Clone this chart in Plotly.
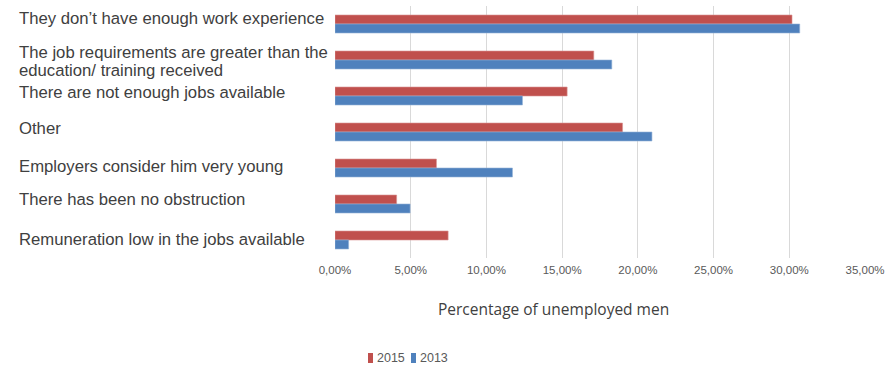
import plotly.graph_objects as go

categories = [
    "They don’t have enough work experience",
    "The job requirements are greater than the<br>education/ training received",
    "There are not enough jobs available",
    "Other",
    "Employers consider him very young",
    "There has been no obstruction",
    "Remuneration low in the jobs available",
]
cat_keys = ["c1", "c2", "c3", "c4", "c5", "c6", "c7"]
series_names = ["2015", "2013"]
values_2015 = [0.3018, 0.1709, 0.1533, 0.1899, 0.0670, 0.0407, 0.0747]
values_2013 = [0.3069, 0.1828, 0.1238, 0.2093, 0.1172, 0.0496, 0.0090]
tick_vals = [0, 0.05, 0.10, 0.15, 0.20, 0.25, 0.30, 0.35]

RED = "#C0504D"
BLUE = "#4F81BD"
TXT = "#404040"
TICK = "#595959"

# plot area geometry (pixels)
L, R, T, B = 335, 29, 6, 122
W, H = 894, 380
PW, PH = W - L - R, H - T - B


def px_x(p):
    return (p - L) / PW


def px_y(p):
    return (H - B - p) / PH


fig = go.Figure()
fig.add_trace(go.Bar(y=cat_keys, x=values_2015, name=series_names[0], orientation="h",
                     marker=dict(color=RED, line=dict(color="#D99694", width=0.6))))
fig.add_trace(go.Bar(y=cat_keys, x=values_2013, name=series_names[1], orientation="h",
                     marker=dict(color=BLUE, line=dict(color="#95B3D7", width=0.6))))

label_font = dict(family="Liberation Sans, Arial", size=16.7, color=TXT)
label_shift = [[6], [8, -10], [4], [4], [2], [5], [1]]
for key, lab, shifts in zip(cat_keys, categories, label_shift):
    for line, sh in zip(lab.split("<br>"), shifts):
        fig.add_annotation(x=px_x(17), xref="paper", y=key, yref="y", yshift=sh,
                           text=line, showarrow=False, xanchor="left", align="left",
                           font=label_font)

fig.add_annotation(x=px_x(553), xref="paper", y=px_y(309), yref="paper",
                   text="Percentage of unemployed men", showarrow=False,
                   xanchor="center", yanchor="middle",
                   font=dict(family="Open Sans", size=15.5, color=TXT))

# manual legend
leg_font = dict(family="Liberation Sans, Arial", size=12.5, color=TICK)
for name, col, sq_x in zip(series_names, [RED, BLUE], [368, 411]):
    fig.add_shape(type="rect", xref="paper", yref="paper",
                  x0=px_x(sq_x), x1=px_x(sq_x + 5), y0=px_y(363), y1=px_y(353),
                  fillcolor=col, line=dict(width=0))
    fig.add_annotation(x=px_x(sq_x + 7), xref="paper", y=px_y(358), yref="paper",
                       text=name, showarrow=False, xanchor="left", yanchor="middle",
                       font=leg_font)

fig.update_layout(
    width=W, height=H,
    margin=dict(l=L, r=R, t=T, b=B),
    paper_bgcolor="white", plot_bgcolor="white",
    barmode="group", bargap=0.5, bargroupgap=0,
    separators=",.",
    showlegend=False,
    xaxis=dict(range=[0, 0.35], tickvals=tick_vals, tickformat=".2%",
               showgrid=True, gridcolor="#D9D9D9", gridwidth=1,
               zeroline=False, showline=False, ticks="", ticklabelstandoff=3,
               tickfont=dict(family="Liberation Sans, Arial", size=11.5, color=TICK)),
    yaxis=dict(autorange="reversed", showticklabels=False, showgrid=False,
               zeroline=False, showline=False, ticks=""),
)

fig.write_html("out.html", config={"displayModeBar": False},
               post_script="document.body.style.margin='0';")
